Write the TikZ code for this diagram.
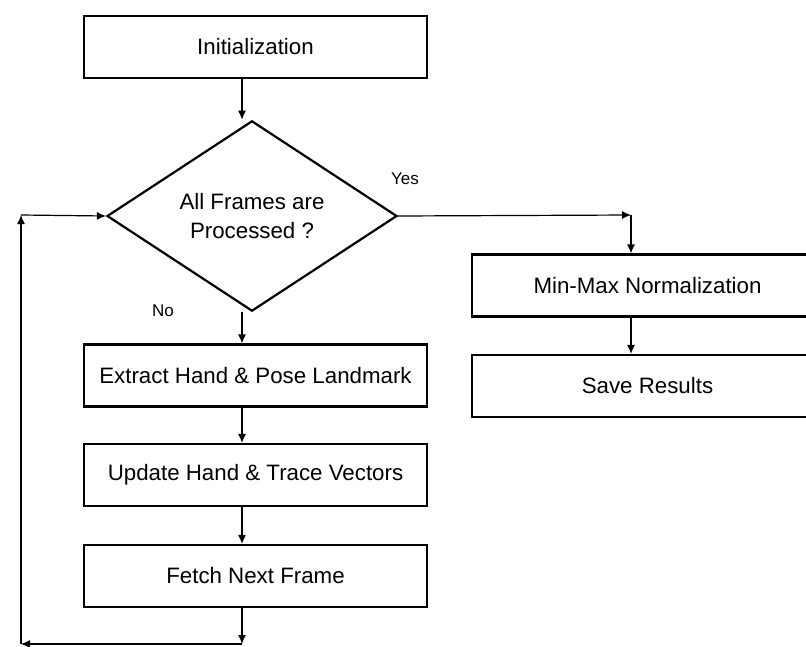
\documentclass[tikz,border=0pt]{standalone}
\usepackage{fontspec}
\setmainfont{Liberation Sans}
\usetikzlibrary{arrows.meta,shapes.geometric}
\begin{document}
\begin{tikzpicture}[x=1pt,y=-1pt,
  every node/.style={font=\fontsize{22.3}{29}\selectfont},
  procbox/.style={draw,line width=2.2pt,rectangle,minimum height=62pt,inner sep=0pt},
  leftbox/.style={procbox,minimum width=343pt},
  decision/.style={draw,line width=2.2pt,diamond,minimum width=290pt,minimum height=188pt,inner sep=0pt,align=center},
  arr/.style={line width=1.2pt,-{Latex[length=9pt,width=8pt]}},
  lbl/.style={font=\fontsize{17}{20}\selectfont}]
\clip (0,0) rectangle (806,646);
\fill[white] (0,0) rectangle (806,646);

% main column
\node[leftbox] (init) at (255.5,47) {Initialization};
\node[decision] (dec) at (252,216) {All Frames are\\Processed ?};
\node[leftbox] (extract) at (255.5,375.5) {Extract Hand \& Pose Landmark};
\node[leftbox] (update) at (255.5,475) {Update Hand \& Trace Vectors};
\node[leftbox] (fetch) at (255.5,576) {Fetch Next Frame};

% right column
\node[procbox,minimum width=351pt] (minmax) at (647.5,285.5) {Min-Max Normalization};
\node[procbox,minimum width=351pt] (save) at (647.5,386) {Save Results};

% routing points
\coordinate (spine) at (242,0);
\coordinate (c1) at (242,644);
\coordinate (c2) at (21,644);
\coordinate (c3) at (21,215);
\coordinate (c4) at (631,215);

% connectors
\draw[arr] (init.south -| spine) -- (dec.north -| spine);
\draw[arr] (dec.south -| spine) -- (extract.north -| spine);
\draw[arr] (extract.south -| spine) -- (update.north -| spine);
\draw[arr] (update.south -| spine) -- (fetch.north -| spine);
\draw[arr] (fetch.south -| spine) -- (c1);
\draw[arr] (c1) -- (c2);
\draw[arr] (c2) -- (c3);
\draw[arr] (c3) -- (dec.west);
\draw[arr] (dec.east) -- (c4);
\draw[arr] (c4) -- (minmax.north -| c4);
\draw[arr] (minmax.south -| c4) -- (save.north -| c4);

% branch labels
\node[lbl] (yes) at (405,179) {Yes};
\node[lbl] (no) at (163,311) {No};
\end{tikzpicture}
\end{document}
